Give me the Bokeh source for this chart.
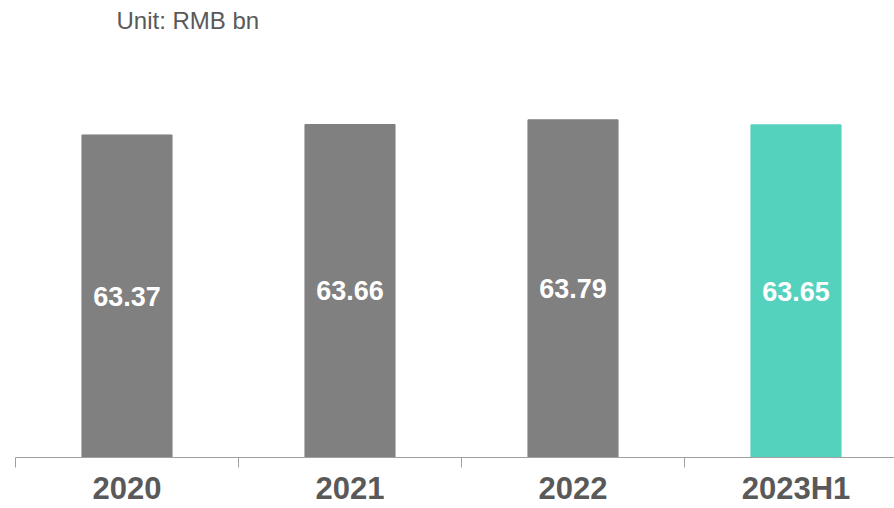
from bokeh.plotting import figure
from bokeh.models import Range1d, FixedTicker, Label, ColumnDataSource
from bokeh.core.properties import value
from bokeh.embed import file_html
from bokeh.resources import INLINE

# Annual figures, RMB bn
categories = ["2020", "2021", "2022", "2023H1"]
values = [63.37, 63.66, 63.79, 63.65]

bar_colors = ["#808080", "#808080", "#808080", "#54D2BE"]
FONT = "Liberation Sans"

# value axis is truncated so the small differences are visible
y_start = 54.43
px_per_unit = 36.0
frame_h = 456
y_end = y_start + frame_h / px_per_unit

centers = [i + 0.5 for i in range(len(categories))]
label_y = [(y_start + v) / 2 for v in values]

src = ColumnDataSource(dict(
    x=centers,
    top=values,
    color=bar_colors,
    ly=label_y,
    txt=[f"{v:.2f}" for v in values],
))

p = figure(width=894, height=508, output_backend="svg", toolbar_location=None,
           x_range=Range1d(0, 879 / 223), y_range=Range1d(y_start, y_end),
           min_border_left=15, min_border_right=0, min_border_top=0, min_border_bottom=0)
p.outline_line_color = None
p.background_fill_color = "white"
p.border_fill_color = "white"
p.xgrid.visible = False
p.ygrid.visible = False
p.yaxis.visible = False

p.vbar(x="x", top="top", bottom=y_start, width=0.404, color="color", source=src)

p.text(x="x", y="ly", text="txt", source=src,
       text_color="white", text_font=value(FONT), text_font_style="bold",
       text_font_size="27px", text_align="center", text_baseline="middle")

# category axis: ticks on the boundaries, names centred under bars
ax = p.xaxis[0]
ax.ticker = FixedTicker(ticks=centers, minor_ticks=list(range(len(categories) + 1)))
ax.major_label_overrides = {c: name for c, name in zip(centers, categories)}
ax.major_tick_out = 0
ax.major_tick_in = 0
ax.minor_tick_out = 10
ax.minor_tick_in = 0
ax.minor_tick_line_color = "#a0a0a0"
ax.axis_line_color = "#a0a0a0"
ax.axis_line_width = 1
ax.major_label_standoff = 3
ax.major_label_text_font = FONT
ax.major_label_text_font_style = "bold"
ax.major_label_text_font_size = "31px"
ax.major_label_text_color = "#595959"

p.add_layout(Label(x=(116 - 15) / 223, y=y_end - 20 / px_per_unit, text="Unit: RMB bn",
                   text_font=FONT, text_font_size="24px", text_color="#595959",
                   text_align="left", text_baseline="alphabetic"))

open("out.html", "w").write(file_html(p, INLINE))
